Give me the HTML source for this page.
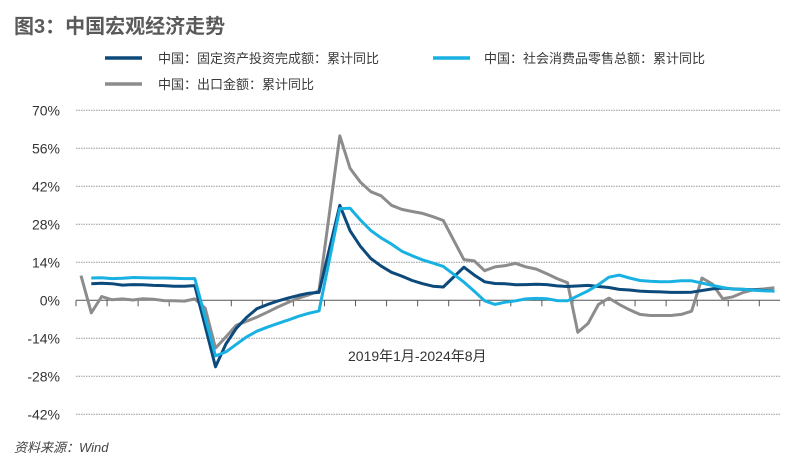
<!DOCTYPE html>
<html><head><meta charset="utf-8">
<style>
body{margin:0;background:#fff;width:808px;height:460px;overflow:hidden;font-family:"Liberation Sans","Noto Sans CJK SC",sans-serif;}
svg{display:block}
</style></head><body>
<svg id="chart" width="808" height="460" viewBox="0 0 808 460" xmlns="http://www.w3.org/2000/svg">
<text x="14" y="33" font-size="20" font-weight="bold" fill="#5a5a5a" font-family="Liberation Sans, Noto Sans CJK SC, sans-serif">图3：中国宏观经济走势</text>
<g font-size="13" fill="#3a3a3a" font-family="Liberation Sans, Noto Sans CJK SC, sans-serif">
<g><line x1="105" y1="58" x2="142" y2="58" stroke="#0d4a7c" stroke-width="3.5"/><text x="158" y="63">中国：固定资产投资完成额：累计同比</text></g>
<g><line x1="433" y1="58" x2="470" y2="58" stroke="#19b1e2" stroke-width="3.5"/><text x="484" y="63">中国：社会消费品零售总额：累计同比</text></g>
<g><line x1="105" y1="84" x2="142" y2="84" stroke="#8c8c8c" stroke-width="3.5"/><text x="158" y="89">中国：出口金额：累计同比</text></g>
</g>
<g id="grid"></g><g id="axis"></g><g id="series"></g>
<text x="348" y="361" font-size="14" fill="#333" font-family="Liberation Sans, Noto Sans CJK SC, sans-serif">2019年1月-2024年8月</text>
<text x="14" y="452" font-size="13" font-style="italic" fill="#444" font-family="Liberation Sans, Noto Sans CJK SC, sans-serif">资料来源：Wind</text>
</svg>
<script>
const yTicks=[70,56,42,28,14,0,-14,-28,-42];
const fai=[null,6.1,6.3,6.1,5.6,5.8,5.7,5.5,5.4,5.2,5.2,5.4,null,-24.5,-16.1,-10.3,-6.3,-3.1,-1.6,-0.3,0.8,1.8,2.6,2.9,null,35,25.6,19.9,15.4,12.6,10.3,8.9,7.3,6.1,5.2,4.9,null,12.2,9.3,6.8,6.2,6.1,5.7,5.8,5.9,5.8,5.3,5.1,null,5.5,5.1,4.7,4.0,3.8,3.4,3.2,3.1,2.9,2.9,3.0,null,4.2,4.5,4.2,4.0,3.9,3.6,3.4];
const retail=[null,8.2,8.3,8.0,8.1,8.4,8.3,8.2,8.2,8.1,8.0,8.0,null,-20.5,-19.0,-16.2,-13.5,-11.4,-9.9,-8.6,-7.3,-5.9,-4.8,-3.9,null,33.8,33.9,29.6,25.7,23.0,20.7,18.1,16.4,14.9,13.7,12.5,null,6.7,3.3,-0.2,-1.5,-0.7,-0.2,0.5,0.7,0.6,-0.1,-0.2,null,3.5,5.8,8.5,9.3,8.2,7.3,7.0,6.8,6.9,7.2,7.2,null,5.5,4.7,4.1,4.1,3.7,3.5,3.4];
const exportsYoY=[9.1,-4.6,1.4,0.2,0.5,0.1,0.6,0.4,-0.1,-0.2,-0.3,0.5,-2.9,-17.6,-13.5,-9.2,-7.7,-6.2,-4.4,-2.5,-0.8,0.8,2.0,3.5,null,60.6,48.6,43.5,40.0,38.5,35.0,33.5,32.7,32.0,30.8,29.4,null,15.0,14.5,10.9,12.3,12.8,13.6,12.3,11.5,9.8,8.0,6.5,-11.8,-8.5,-1.5,0.8,-1.5,-3.5,-5.2,-5.6,-5.6,-5.6,-5.2,-4.0,8.2,6.0,0.6,1.3,2.9,3.9,4.2,4.6];
const NS="http://www.w3.org/2000/svg";
const X0=81,DX=10.35,PL=76,PR=780;
const xs=i=>X0+DX*i;
const ys=v=>300.3-v*(38/14);
const grid=document.getElementById('grid'),axis=document.getElementById('axis'),ser=document.getElementById('series');
yTicks.forEach(t=>{
  const y=ys(t);
  if(t!==0){
    const l=document.createElementNS(NS,'line');
    
    
    l.setAttribute('x1',PL);l.setAttribute('x2',PR);l.setAttribute('y1',y);l.setAttribute('y2',y);
    l.setAttribute('stroke','#999');l.setAttribute('stroke-width','1');l.setAttribute('stroke-dasharray','1.5,1');
    grid.appendChild(l);
  }
  const tx=document.createElementNS(NS,'text');
  
  
  tx.setAttribute('x',60);tx.setAttribute('y',y+5);tx.setAttribute('text-anchor','end');
  tx.setAttribute('font-size','14');tx.setAttribute('fill','#333');
  tx.textContent=(t<0?'-'+Math.abs(t):t)+'%';
  axis.appendChild(tx);
});
const ax=document.createElementNS(NS,'line');


ax.setAttribute('x1',PL);ax.setAttribute('x2',PR);ax.setAttribute('y1',ys(0));ax.setAttribute('y2',ys(0));
ax.setAttribute('stroke','#555');ax.setAttribute('stroke-width','1');
axis.appendChild(ax);
for(let i=0;i<=68;i+=3){
  const x=PL+(PR-PL)*i/68;
  const tk=document.createElementNS(NS,'line');
  
  
  tk.setAttribute('x1',x);tk.setAttribute('x2',x);tk.setAttribute('y1',ys(0));tk.setAttribute('y2',ys(0)+6);
  tk.setAttribute('stroke','#555');
  axis.appendChild(tk);
}
function drawLine(arr,color,name){
  const pts=[];
  arr.forEach((v,i)=>{if(v!==null)pts.push(xs(i).toFixed(1)+','+ys(v).toFixed(1));});
  const p=document.createElementNS(NS,'polyline');
  
  
  p.setAttribute('points',pts.join(' '));
  p.setAttribute('fill','none');p.setAttribute('stroke',color);p.setAttribute('stroke-width','3');
  p.setAttribute('stroke-linejoin','round');
  ser.appendChild(p);
}
drawLine(exportsYoY,'#8c8c8c','series-exports');
drawLine(fai,'#0d4a7c','series-fai');
drawLine(retail,'#19b1e2','series-retail');
</script>
</body></html>
